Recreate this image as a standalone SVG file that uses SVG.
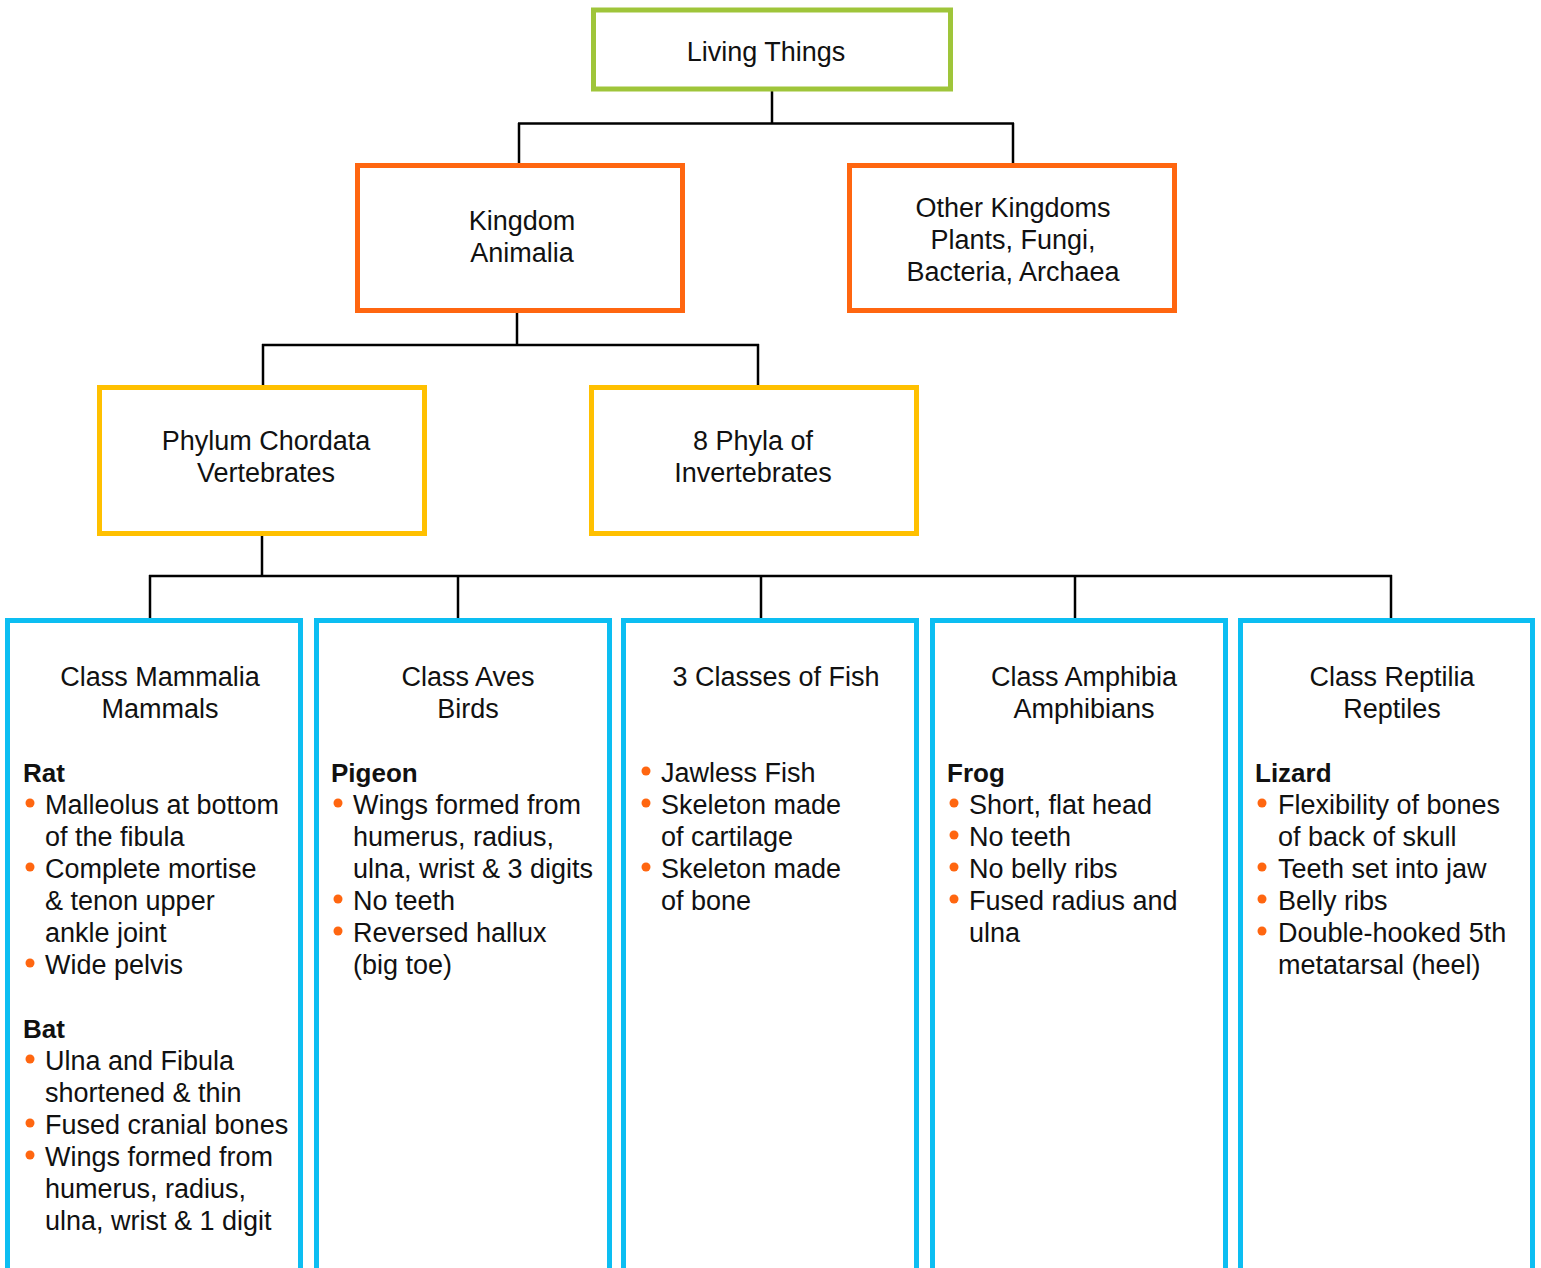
<svg xmlns="http://www.w3.org/2000/svg" width="1541" height="1268" viewBox="0 0 1541 1268">
<style>
text{font-family:"Liberation Sans",Arial,Helvetica,sans-serif;font-size:27px;fill:#111}
.c{text-anchor:middle}
.b{font-weight:bold;font-size:26px}
.box{fill:#fff;stroke-width:5}
.g{stroke:#9FC53A}.o{stroke:#FF6610}.y{stroke:#FFC000}.bl{stroke:#0CBEF2}
.dot{fill:#FF6610}
#connectors line{stroke:#000;stroke-width:2.5}
</style>
<rect width="1541" height="1268" fill="#fff"/>
<g id="connectors">
<line x1="772" y1="91" x2="772" y2="124"/>
<line x1="518" y1="123.5" x2="1014" y2="123.5"/>
<line x1="519" y1="123" x2="519" y2="164"/>
<line x1="1013" y1="123" x2="1013" y2="164"/>
<line x1="517" y1="312" x2="517" y2="346"/>
<line x1="262" y1="345" x2="759" y2="345"/>
<line x1="263" y1="344" x2="263" y2="386"/>
<line x1="758" y1="344" x2="758" y2="386"/>
<line x1="262" y1="535" x2="262" y2="577"/>
<line x1="149" y1="576" x2="1392" y2="576"/>
<line x1="150" y1="575" x2="150" y2="618"/>
<line x1="458" y1="575" x2="458" y2="618"/>
<line x1="761" y1="575" x2="761" y2="618"/>
<line x1="1075" y1="575" x2="1075" y2="618"/>
<line x1="1391" y1="575" x2="1391" y2="618"/>
</g>
<g id="living">
<rect class="box g" x="593.5" y="10" width="357" height="79"/>
<text class="c" x="766" y="61">Living Things</text>
</g>
<g id="animalia">
<rect class="box o" x="357.5" y="165.5" width="325" height="145"/>
<text class="c" x="522" y="230">Kingdom</text>
<text class="c" x="522" y="262">Animalia</text>
</g>
<g id="other">
<rect class="box o" x="849.5" y="165.5" width="325" height="145"/>
<text class="c" x="1013" y="217">Other Kingdoms</text>
<text class="c" x="1013" y="249">Plants, Fungi,</text>
<text class="c" x="1013" y="281">Bacteria, Archaea</text>
</g>
<g id="chordata">
<rect class="box y" x="99.5" y="387.5" width="325" height="146"/>
<text class="c" x="266" y="450">Phylum Chordata</text>
<text class="c" x="266" y="482">Vertebrates</text>
</g>
<g id="invertebrates">
<rect class="box y" x="591.5" y="387.5" width="325" height="146"/>
<text class="c" x="753" y="450">8 Phyla of</text>
<text class="c" x="753" y="482">Invertebrates</text>
</g>
<g id="mammalia">
<rect class="box bl" x="7.5" y="620.5" width="293" height="700"/>
<text class="c" x="160" y="686">Class Mammalia</text>
<text class="c" x="160" y="718">Mammals</text>
<text class="b" x="23" y="782">Rat</text>
<circle class="dot" cx="30" cy="803" r="4.5"/>
<text x="45" y="814">Malleolus at bottom</text>
<text x="45" y="846">of the fibula</text>
<circle class="dot" cx="30" cy="867" r="4.5"/>
<text x="45" y="878">Complete mortise</text>
<text x="45" y="910">&amp; tenon upper</text>
<text x="45" y="942">ankle joint</text>
<circle class="dot" cx="30" cy="963" r="4.5"/>
<text x="45" y="974">Wide pelvis</text>
<text class="b" x="23" y="1038">Bat</text>
<circle class="dot" cx="30" cy="1059" r="4.5"/>
<text x="45" y="1070">Ulna and Fibula</text>
<text x="45" y="1102">shortened &amp; thin</text>
<circle class="dot" cx="30" cy="1123" r="4.5"/>
<text x="45" y="1134">Fused cranial bones</text>
<circle class="dot" cx="30" cy="1155" r="4.5"/>
<text x="45" y="1166">Wings formed from</text>
<text x="45" y="1198">humerus, radius,</text>
<text x="45" y="1230">ulna, wrist &amp; 1 digit</text>
</g>
<g id="aves">
<rect class="box bl" x="316.5" y="620.5" width="293" height="700"/>
<text class="c" x="468" y="686">Class Aves</text>
<text class="c" x="468" y="718">Birds</text>
<text class="b" x="331" y="782">Pigeon</text>
<circle class="dot" cx="338" cy="803" r="4.5"/>
<text x="353" y="814">Wings formed from</text>
<text x="353" y="846">humerus, radius,</text>
<text x="353" y="878">ulna, wrist &amp; 3 digits</text>
<circle class="dot" cx="338" cy="899" r="4.5"/>
<text x="353" y="910">No teeth</text>
<circle class="dot" cx="338" cy="931" r="4.5"/>
<text x="353" y="942">Reversed hallux</text>
<text x="353" y="974">(big toe)</text>
</g>
<g id="fish">
<rect class="box bl" x="623.5" y="620.5" width="293" height="700"/>
<text class="c" x="776" y="686">3 Classes of Fish</text>
<circle class="dot" cx="646" cy="771" r="4.5"/>
<text x="661" y="782">Jawless Fish</text>
<circle class="dot" cx="646" cy="803" r="4.5"/>
<text x="661" y="814">Skeleton made</text>
<text x="661" y="846">of cartilage</text>
<circle class="dot" cx="646" cy="867" r="4.5"/>
<text x="661" y="878">Skeleton made</text>
<text x="661" y="910">of bone</text>
</g>
<g id="amphibia">
<rect class="box bl" x="932.5" y="620.5" width="293" height="700"/>
<text class="c" x="1084" y="686">Class Amphibia</text>
<text class="c" x="1084" y="718">Amphibians</text>
<text class="b" x="947" y="782">Frog</text>
<circle class="dot" cx="954" cy="803" r="4.5"/>
<text x="969" y="814">Short, flat head</text>
<circle class="dot" cx="954" cy="835" r="4.5"/>
<text x="969" y="846">No teeth</text>
<circle class="dot" cx="954" cy="867" r="4.5"/>
<text x="969" y="878">No belly ribs</text>
<circle class="dot" cx="954" cy="899" r="4.5"/>
<text x="969" y="910">Fused radius and</text>
<text x="969" y="942">ulna</text>
</g>
<g id="reptilia">
<rect class="box bl" x="1240.5" y="620.5" width="292" height="700"/>
<text class="c" x="1392" y="686">Class Reptilia</text>
<text class="c" x="1392" y="718">Reptiles</text>
<text class="b" x="1255" y="782">Lizard</text>
<circle class="dot" cx="1262" cy="803" r="4.5"/>
<text x="1278" y="814">Flexibility of bones</text>
<text x="1278" y="846">of back of skull</text>
<circle class="dot" cx="1262" cy="867" r="4.5"/>
<text x="1278" y="878">Teeth set into jaw</text>
<circle class="dot" cx="1262" cy="899" r="4.5"/>
<text x="1278" y="910">Belly ribs</text>
<circle class="dot" cx="1262" cy="931" r="4.5"/>
<text x="1278" y="942">Double-hooked 5th</text>
<text x="1278" y="974">metatarsal (heel)</text>
</g>
</svg>
